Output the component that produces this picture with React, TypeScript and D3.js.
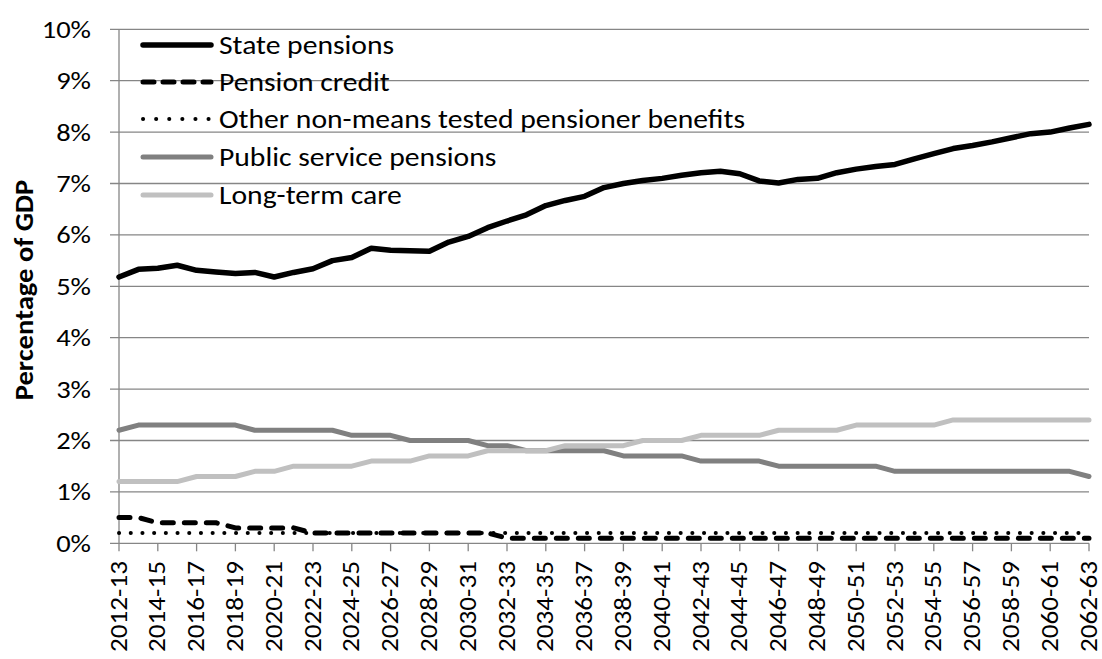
import React from "react";
import * as d3 from "d3";

const categories = [
  "2012-13","2013-14","2014-15","2015-16","2016-17","2017-18","2018-19","2019-20","2020-21","2021-22",
  "2022-23","2023-24","2024-25","2025-26","2026-27","2027-28","2028-29","2029-30","2030-31","2031-32",
  "2032-33","2033-34","2034-35","2035-36","2036-37","2037-38","2038-39","2039-40","2040-41","2041-42",
  "2042-43","2043-44","2044-45","2045-46","2046-47","2047-48","2048-49","2049-50","2050-51","2051-52",
  "2052-53","2053-54","2054-55","2055-56","2056-57","2057-58","2058-59","2059-60","2060-61","2061-62",
  "2062-63",
];

const statePensions = [
  5.18, 5.33, 5.35, 5.41, 5.31, 5.28, 5.25, 5.27, 5.18, 5.27,
  5.34, 5.50, 5.56, 5.74, 5.70, 5.69, 5.68, 5.86, 5.97, 6.14,
  6.27, 6.39, 6.57, 6.67, 6.75, 6.92, 7.00, 7.06, 7.10, 7.16,
  7.21, 7.24, 7.19, 7.05, 7.01, 7.08, 7.10, 7.21, 7.28, 7.33,
  7.37, 7.48, 7.58, 7.68, 7.74, 7.81, 7.89, 7.97, 8.00, 8.08,
  8.15,
];

const pensionCredit = [
  0.5, 0.5, 0.4, 0.4, 0.4, 0.4, 0.3, 0.3, 0.3, 0.3,
  0.2, 0.2, 0.2, 0.2, 0.2, 0.2, 0.2, 0.2, 0.2, 0.2,
  0.1, 0.1, 0.1, 0.1, 0.1, 0.1, 0.1, 0.1, 0.1, 0.1,
  0.1, 0.1, 0.1, 0.1, 0.1, 0.1, 0.1, 0.1, 0.1, 0.1,
  0.1, 0.1, 0.1, 0.1, 0.1, 0.1, 0.1, 0.1, 0.1, 0.1,
  0.1,
];

const otherBenefits = [
  0.2, 0.2, 0.2, 0.2, 0.2, 0.2, 0.2, 0.2, 0.2, 0.2,
  0.2, 0.2, 0.2, 0.2, 0.2, 0.2, 0.2, 0.2, 0.2, 0.2,
  0.2, 0.2, 0.2, 0.2, 0.2, 0.2, 0.2, 0.2, 0.2, 0.2,
  0.2, 0.2, 0.2, 0.2, 0.2, 0.2, 0.2, 0.2, 0.2, 0.2,
  0.2, 0.2, 0.2, 0.2, 0.2, 0.2, 0.2, 0.2, 0.2, 0.2,
  0.2,
];

const publicService = [
  2.2, 2.3, 2.3, 2.3, 2.3, 2.3, 2.3, 2.2, 2.2, 2.2,
  2.2, 2.2, 2.1, 2.1, 2.1, 2.0, 2.0, 2.0, 2.0, 1.9,
  1.9, 1.8, 1.8, 1.8, 1.8, 1.8, 1.7, 1.7, 1.7, 1.7,
  1.6, 1.6, 1.6, 1.6, 1.5, 1.5, 1.5, 1.5, 1.5, 1.5,
  1.4, 1.4, 1.4, 1.4, 1.4, 1.4, 1.4, 1.4, 1.4, 1.4,
  1.3,
];

const longTermCare = [
  1.2, 1.2, 1.2, 1.2, 1.3, 1.3, 1.3, 1.4, 1.4, 1.5,
  1.5, 1.5, 1.5, 1.6, 1.6, 1.6, 1.7, 1.7, 1.7, 1.8,
  1.8, 1.8, 1.8, 1.9, 1.9, 1.9, 1.9, 2.0, 2.0, 2.0,
  2.1, 2.1, 2.1, 2.1, 2.2, 2.2, 2.2, 2.2, 2.3, 2.3,
  2.3, 2.3, 2.3, 2.4, 2.4, 2.4, 2.4, 2.4, 2.4, 2.4,
  2.4,
];

const yTicks = [0, 1, 2, 3, 4, 5, 6, 7, 8, 9, 10];
const yTickLabels = ["0%", "1%", "2%", "3%", "4%", "5%", "6%", "7%", "8%", "9%", "10%"];
const yTitle = "Percentage of GDP";

const seriesNames = [
  "State pensions",
  "Pension credit",
  "Other non-means tested pensioner benefits",
  "Public service pensions",
  "Long-term care",
];

const FONT = "Carlito, Calibri, Lato, sans-serif";

type Style = { color: string; width: number; dash?: string; legendDash?: string };
const styles: Style[] = [
  { color: "#000000", width: 5.5 },
  { color: "#000000", width: 5, dash: "11 11", legendDash: "11 9" },
  { color: "#000000", width: 4, dash: "0.1 11.6", legendDash: "0.1 13" },
  { color: "#808080", width: 5 },
  { color: "#c0c0c0", width: 5 },
];

export default function App() {
  const W = 1102, H = 659;
  const x = d3.scalePoint<string>().domain(categories).range([119, 1089]);
  const y = d3.scaleLinear().domain([0, 10]).range([543.3, 29.3]);
  const allSeries = [statePensions, pensionCredit, otherBenefits, publicService, longTermCare];
  const line = d3
    .line<number>()
    .x((_, i) => x(categories[i]) as number)
    .y((d) => y(d));
  const legendY = [45, 82, 119, 157, 195];
  const stretch = 1.14;

  return (
    <svg
      width={W}
      height={H}
      style={{ position: "fixed", left: 0, top: 0, background: "#fff" }}
      fontFamily={FONT}
    >
      <rect x={0} y={0} width={W} height={H} fill="#fff" />
      {yTicks.map((t) => (
        <line key={"g" + t} x1={110} x2={1089} y1={y(t)} y2={y(t)} stroke="#868686" strokeWidth={1.3} />
      ))}
      <line x1={119} x2={119} y1={y(10)} y2={y(0)} stroke="#868686" strokeWidth={1.3} />
      {categories.map((c, i) =>
        i % 2 === 0 ? (
          <line key={"xt" + c} x1={x(c)} x2={x(c)} y1={y(0)} y2={y(0) + 8} stroke="#868686" strokeWidth={1.3} />
        ) : null
      )}
      {yTicks.map((t, i) => (
        <text
          key={"yl" + t}
          transform={`translate(91,${y(t) + 8.5}) scale(${stretch},1)`}
          textAnchor="end"
          fontSize={25}
          fill="#000"
        >
          {yTickLabels[i]}
        </text>
      ))}
      {categories.map((c, i) =>
        i % 2 === 0 ? (
          <text
            key={"xl" + c}
            transform={`translate(${(x(c) as number) + 7.5},561) scale(1,1.11) rotate(-90)`}
            textAnchor="end"
            fontSize={24.5}
            fill="#000"
          >
            {c}
          </text>
        ) : null
      )}
      <text
        transform={`translate(33,290) scale(1,1.1) rotate(-90)`}
        textAnchor="middle"
        fontSize={26}
        fontWeight="bold"
        fill="#000"
      >
        {yTitle}
      </text>
      {allSeries.map((s, k) => (
        <path
          key={"s" + k}
          d={line(s) || ""}
          fill="none"
          stroke={styles[k].color}
          strokeWidth={styles[k].width}
          strokeDasharray={styles[k].dash}
          strokeLinecap="round"
          strokeLinejoin="round"
        />
      ))}
      {seriesNames.map((n, k) => (
        <g key={"lg" + k}>
          <line
            x1={143}
            x2={211}
            y1={legendY[k]}
            y2={legendY[k]}
            stroke={styles[k].color}
            strokeWidth={styles[k].width}
            strokeDasharray={styles[k].legendDash}
            strokeLinecap="round"
          />
          <text
            transform={`translate(219,${legendY[k] + 8.5}) scale(${stretch},1)`}
            fontSize={26}
            fill="#000"
          >
            {n}
          </text>
        </g>
      ))}
    </svg>
  );
}
